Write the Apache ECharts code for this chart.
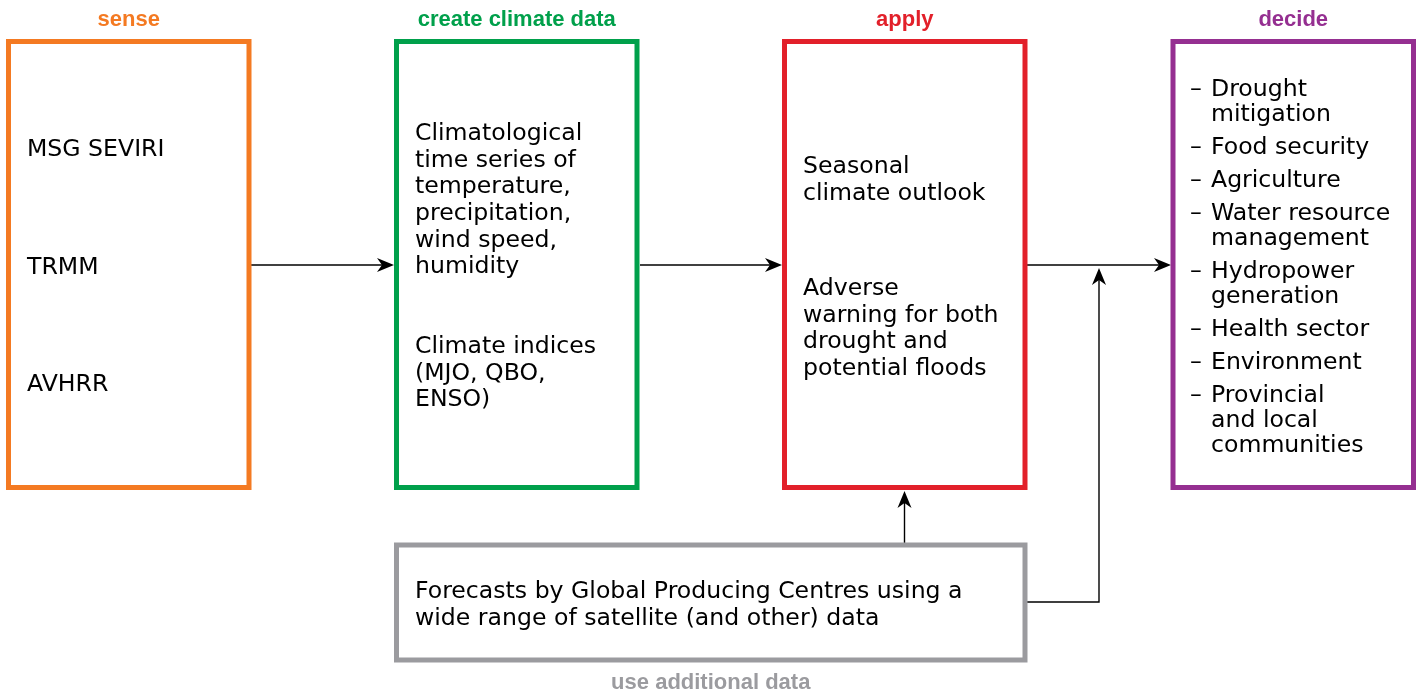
<!DOCTYPE html>
<html><head><meta charset="utf-8">
<script src="https://cdn.jsdelivr.net/npm/echarts@6/dist/echarts.min.js"></script>
<style>html,body{margin:0;padding:0;background:#fff}#c{width:1422px;height:692px}</style>
</head><body><div id="c"></div>
<script>
// ---- content ----
const stageTitles = ['sense', 'create climate data', 'apply', 'decide'];
const senseItems = ['MSG SEVIRI', 'TRMM', 'AVHRR'];
const createGroups = [
  ['Climatological', 'time series of', 'temperature,', 'precipitation,', 'wind speed,', 'humidity'],
  ['Climate indices', '(MJO, QBO,', 'ENSO)']
];
const applyGroups = [
  ['Seasonal', 'climate outlook'],
  ['Adverse', 'warning for both', 'drought and', 'potential floods']
];
const decideItems = [
  ['Drought', 'mitigation'], ['Food security'], ['Agriculture'], ['Water resource', 'management'],
  ['Hydropower', 'generation'], ['Health sector'], ['Environment'], ['Provincial', 'and local', 'communities']
];
const forecastLines = ['Forecasts by Global Producing Centres using a', 'wide range of satellite (and other) data'];
const bottomTitle = 'use additional data';

// ---- layout & style ----
const colors = ['#F47A22', '#00A04B', '#E2202A', '#952F91'];
const gray = '#9B9B9F';
const ink = '#000';
const bodyFont = '23.6px "DejaVu Sans", sans-serif';
const titleFont = 'bold 22px "Liberation Sans", Arial, sans-serif';
const boxLeft = [8.5, 396.5, 784.5, 1173];
const boxW = 240.5, boxTop = 41.5, boxBottom = 487.5, bw = 5;
const textX = [27, 415, 803, 1211];
const dy = 2;
const senseY = [148, 266, 383];
const createStarts = [132, 345];
const applyStarts = [165, 287];
const lh = 26.6;
const decideStart = 88, decideLh = 25, decideGap = 33;
const fc = {x: 396.5, y: 545, w: 628.5, h: 115};

const g = [];
function txt(s, x, y, font, fill, align) {
  g.push({type: 'text', x: x, y: y, z: 10,
    style: {text: s, font: font, fill: fill, align: align || 'left', verticalAlign: 'middle'}});
}
function head(tx, ty, dir) {
  let pts;
  if (dir === 'r') pts = [[tx, ty], [tx - 17, ty - 7], [tx - 12, ty], [tx - 17, ty + 7]];
  else pts = [[tx, ty], [tx - 7, ty + 17], [tx, ty + 12], [tx + 7, ty + 17]];
  g.push({type: 'polygon', z: 5, shape: {points: pts}, style: {fill: '#000'}});
}
function line(pts) {
  g.push({type: 'polyline', z: 5, shape: {points: pts}, style: {stroke: '#000', lineWidth: 1.4, fill: null}});
}

// boxes + titles
for (let i = 0; i < 4; i++) {
  g.push({type: 'rect', z: 8, shape: {x: boxLeft[i], y: boxTop, width: boxW, height: boxBottom - boxTop},
    style: {fill: null, stroke: colors[i], lineWidth: bw}});
  txt(stageTitles[i], boxLeft[i] + boxW / 2, 20, titleFont, colors[i], 'center');
}
g.push({type: 'rect', z: 8, shape: {x: fc.x, y: fc.y, width: fc.w, height: fc.h},
  style: {fill: null, stroke: gray, lineWidth: bw}});
txt(bottomTitle, fc.x + fc.w / 2, 683, titleFont, gray, 'center');

// texts
senseItems.forEach((s, i) => txt(s, textX[0], senseY[i] + dy, bodyFont, ink));
createGroups.forEach((grp, gi) => grp.forEach((s, j) => txt(s, textX[1], createStarts[gi] + j * lh + dy, bodyFont, ink)));
applyGroups.forEach((grp, gi) => grp.forEach((s, j) => txt(s, textX[2], applyStarts[gi] + j * lh + dy, bodyFont, ink)));
let yy = decideStart + dy;
decideItems.forEach((item) => {
  txt('\u2013', 1190, yy, bodyFont, ink);
  item.forEach((s, j) => {
    txt(s, textX[3], yy, bodyFont, ink);
    if (j < item.length - 1) yy += decideLh;
  });
  yy += decideGap;
});
forecastLines.forEach((s, i) => txt(s, 415, 590 + i * 27 + dy, bodyFont, ink));

// arrows
const ay = 265;
line([[251, ay], [384, ay]]); head(394, ay, 'r');
line([[640, ay], [772, ay]]); head(782, ay, 'r');
line([[1027, ay], [1161, ay]]); head(1171, ay, 'r');
line([[904.5, 543], [904.5, 501]]); head(904.5, 491, 'u');
line([[1027, 602], [1099, 602], [1099, 278]]); head(1099, 268, 'u');

const chart = echarts.init(document.getElementById('c'));
chart.setOption({backgroundColor: '#fff', animation: false, graphic: {elements: g}});
</script></body></html>
